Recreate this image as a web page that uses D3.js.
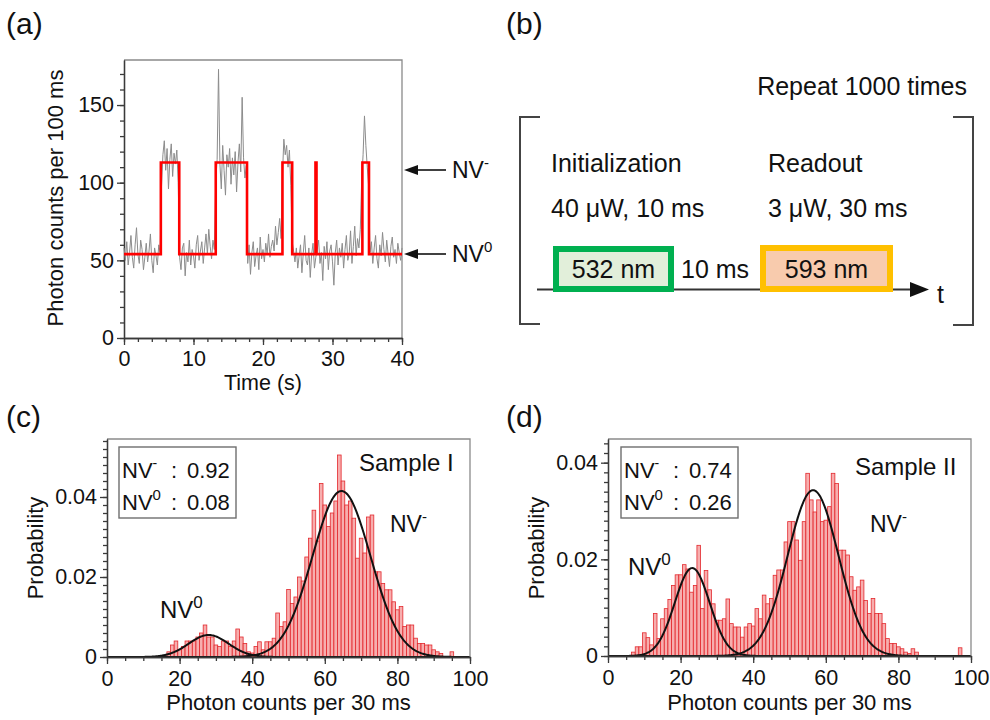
<!DOCTYPE html>
<html><head><meta charset="utf-8">
<script src="https://cdn.jsdelivr.net/npm/d3@7"></script>
<style>body{margin:0;background:#fff}svg{display:block}</style>
</head><body>
<svg id="chart" width="990" height="720"></svg>
<script>
// ---------- DATA ----------
// (a) photon count trace, one value every 0.2 s from 0 to 40 s
const traceStep = 0.2;
const traceValues = [
 58,50,62,47,55,66,52,45,60,71,54,48,63,57,44,52,61,49,56,67,50,42,58,53,47,60,55,
 98,118,127,108,122,96,115,125,104,119,112,121,100,
 52,44,58,61,40,55,49,63,47,57,53,45,60,66,50,56,62,48,58,67,54,70,59,51,63,57,
 101,115,173,112,96,124,108,92,118,110,122,99,116,105,120,94,113,125,107,155,116,103,111,
 48,60,41,55,62,46,53,58,44,65,51,57,49,61,54,67,52,59,63,56,72,60,68,77,64,
 105,128,118,124,110,121,98,
 62,56,49,58,45,53,60,42,55,66,50,47,58,39,54,61,45,52,57,63,48,55,37,59,51,62,44,56,60,49,
 34,55,63,47,58,52,61,45,57,66,50,54,69,48,59,72,53,64,58,70,
 102,118,143,124,110,98,
 55,62,48,58,66,51,45,60,53,68,57,49,63,54,46,59,65,52,57,48,61,55,50,58
];
// (a) two-level state fit (step)
const stateTimes  = [0, 5.3, 7.95, 13.2, 17.7, 22.8, 24.2, 27.55, 27.7, 34.3, 35.25, 40];
const stateLevels = [54, 113, 54, 113, 54, 113, 54, 113, 54, 113, 54, 54];
const aYTicks = [0, 50, 100, 150];
const aXTicks = [0, 10, 20, 30, 40];

// (c) Sample I histogram (bin centre, probability)
const binsC = [17,18,19,20,21,22,23,24,25,26,27,28,29,30,31,32,33,34,35,36,37,38,39,40,41,42,43,44,45,46,
 47,48,49,50,51,52,53,54,55,56,57,58,59,60,61,62,63,64,65,66,67,68,69,70,71,72,73,74,75,76,
 77,78,79,80,81,82,83,84,85,86,87,88,89,90,91,92,93,94,95];
const probC = [0.0013,0.003,0.004,0.0018,0.0026,0.004,0.004,0.004,0.005,0.006,0.008,0.005,0.005,0.003,0.0026,0.004,0.004,0.0026,0.004,0.007,
 0.005,0.0034,0.0013,0.001,0.0026,0.0038,0.0018,0.0038,0.0038,0.0047,
 0.011,0.0076,0.0088,0.0169,0.0134,0.015,0.02,0.019,0.025,0.0297,0.0367,0.029,0.0434,0.038,0.0326,0.036,0.039,0.0505,0.044,0.038,
 0.039,0.0347,0.0247,0.0297,0.026,0.035,0.0355,0.0213,0.0213,0.0184,
 0.0168,0.0168,0.0138,0.0118,0.0126,0.0076,0.008,0.008,0.0047,0.0034,0.0034,0.003,0.003,0.0018,0.0013,0.0009,0,0,0.0013];
// (c) Gaussian fit parameters [NV0, NV-]
const fitAmpC = [0.0055, 0.0415];
const fitMeanC = [28, 64.6];
const fitSigmaC = [5.5, 8.0];

// (d) Sample II histogram
const binsD = [7,8,9,10,11,12,13,14,15,16,17,18,19,20,21,22,23,24,25,26,27,28,29,30,31,32,33,34,35,36,
 37,38,39,40,41,42,43,44,45,46,47,48,49,50,51,52,53,54,55,56,57,58,59,60,61,62,63,64,65,66,
 67,68,69,70,71,72,73,74,75,76,77,78,79,80,81,82,83,84,85,97];
const probD = [0.0008,0.0019,0.0019,0.0048,0.0038,0.0023,0.0088,0.0036,0.0077,0.0098,0.0117,0.0146,0.0168,0.0168,0.0189,0.018,0.0132,0.0146,0.0229,0.0098,
 0.0177,0.0137,0.0108,0.0074,0.0074,0.0077,0.0118,0.0067,0.006,0.006,
 0.0039,0.006,0.0067,0.0062,0.0098,0.0077,0.0126,0.0108,0.0119,0.0167,0.0178,0.0178,0.0236,0.0278,0.0278,0.024,0.0198,0.0278,0.0378,0.0323,
 0.0298,0.0323,0.0278,0.0281,0.0309,0.0378,0.0357,0.0219,0.0219,0.0209,
 0.0164,0.0136,0.0143,0.0157,0.0115,0.0088,0.0119,0.0088,0.0088,0.0067,0.0036,0.0026,0.0026,0.0019,0.0015,0.0008,0.0005,0.0015,0.0008,0.0017];
const fitAmpD = [0.0182, 0.0343];
const fitMeanD = [23.2, 56.5];
const fitSigmaD = [4.8, 7.0];

const histXTicks = [0, 20, 40, 60, 80, 100];
const histYTicks = [0, 0.02, 0.04];
const ratioC = ["0.92", "0.08"];
const ratioD = ["0.74", "0.26"];

// ---------- DRAWING ----------
const FONT = '"Liberation Sans", Arial, Helvetica, sans-serif';
const svg = d3.select("#chart").attr("font-family", FONT);
svg.append("rect").attr("width", 990).attr("height", 720).attr("fill", "#fff");

function range(a, b, s) { const r = []; for (let v = a; v <= b + 1e-9; v += s) r.push(+v.toFixed(6)); return r; }

function drawAxes(g, x, y, cfg) {
  const [x0, x1] = x.range(), [y0, y1] = y.range();
  g.append("path").attr("d", `M${x0},${y1}H${x1}V${y0}`).attr("fill", "none")
    .attr("stroke", "#8a8a8a").attr("stroke-width", 1.3);
  g.append("g").attr("transform", `translate(${x0},0)`)
    .call(d3.axisLeft(y).tickValues(cfg.yMinor).tickSize(4).tickFormat("").tickSizeOuter(0));
  g.append("g").attr("transform", `translate(0,${y0})`)
    .call(d3.axisBottom(x).tickValues(cfg.xMinor).tickSize(4).tickFormat("").tickSizeOuter(0));
  g.append("g").attr("transform", `translate(${x0},0)`)
    .call(d3.axisLeft(y).tickValues(cfg.yMajor).tickSize(7).tickPadding(3).tickFormat(cfg.yFmt).tickSizeOuter(0));
  g.append("g").attr("transform", `translate(0,${y0})`)
    .call(d3.axisBottom(x).tickValues(cfg.xMajor).tickSize(7).tickPadding(cfg.xPad).tickFormat(d3.format("d")).tickSizeOuter(0));
  g.selectAll(".domain, .tick line").attr("stroke", "#3a3a3a").attr("stroke-width", 1.3);
  g.selectAll(".tick text").attr("font-size", 21.5).attr("fill", "#111").attr("font-family", FONT);
}

function txt(x, y, s, size, anchor) {
  return svg.append("text").attr("x", x).attr("y", y).attr("font-size", size)
    .attr("fill", "#111").attr("text-anchor", anchor || "start").text(s);
}
function nv(x, y, sup, size, supSize, dy) {
  const t = svg.append("text").attr("x", x).attr("y", y).attr("font-size", size).attr("fill", "#111");
  t.append("tspan").text("NV");
  t.append("tspan").attr("dy", dy).attr("font-size", supSize).text(sup);
  return t;
}

// ===== Panel (a) =====
txt(6, 34, "(a)", 30);
const xA = d3.scaleLinear().domain([0, 40]).range([124, 402]);
const yA = d3.scaleLinear().domain([0, 179]).range([338, 60]);
const gA = svg.append("g");
drawAxes(gA, xA, yA, {
  yMinor: range(0, 170, 10), xMinor: range(0, 40, 2),
  yMajor: aYTicks, xMajor: aXTicks, yFmt: d3.format("d"), xPad: 6
});
// gray trace
const traceLine = d3.line().x((d, i) => xA(i * traceStep)).y(d => yA(d));
gA.append("path").datum(traceValues).attr("d", traceLine)
  .attr("fill", "none").attr("stroke", "#8c8c8c").attr("stroke-width", 1);
// red step
const stepPts = stateTimes.map((t, i) => [t, stateLevels[i]]);
gA.append("path").datum(stepPts)
  .attr("d", d3.line().x(d => xA(d[0])).y(d => yA(d[1])).curve(d3.curveStepAfter))
  .attr("fill", "none").attr("stroke", "#ff0000").attr("stroke-width", 2.6);
// axis titles
svg.append("text").attr("transform", "translate(63,198) rotate(-90)").attr("text-anchor", "middle")
  .attr("font-size", 22).attr("fill", "#111").text("Photon counts per 100 ms");
txt(263, 390, "Time (s)", 21.5, "middle");
// arrows
function arrowLeft(xTip, xTail, y) {
  svg.append("line").attr("x1", xTip + 10).attr("x2", xTail).attr("y1", y).attr("y2", y)
    .attr("stroke", "#111").attr("stroke-width", 1.6);
  svg.append("path").attr("d", `M${xTip},${y}L${xTip + 14},${y - 5}L${xTip + 14},${y + 5}Z`).attr("fill", "#111");
}
arrowLeft(404, 446, 170);
arrowLeft(404, 446, 254);
nv(452, 178, "-", 23, 15, -10);
nv(452, 262, "0", 23, 15, -10);

// ===== Panel (b) =====
txt(506, 34, "(b)", 30);
txt(967, 95, "Repeat 1000 times", 25, "end");
svg.append("path").attr("d", "M540,117H520V324H540").attr("fill", "none").attr("stroke", "#444").attr("stroke-width", 2);
svg.append("path").attr("d", "M953,117H973V325H953").attr("fill", "none").attr("stroke", "#444").attr("stroke-width", 2);
txt(551, 172, "Initialization", 25);
txt(768, 172, "Readout", 25);
txt(551, 217, "40 μW, 10 ms", 25);
txt(768, 217, "3 μW, 30 ms", 25);
svg.append("line").attr("x1", 537).attr("x2", 912).attr("y1", 289.5).attr("y2", 289.5)
  .attr("stroke", "#333").attr("stroke-width", 1.8);
svg.append("path").attr("d", "M910,282L929,289.5L910,297Z").attr("fill", "#111");
txt(937, 303, "t", 25);
svg.append("rect").attr("x", 556).attr("y", 249).attr("width", 115).attr("height", 40)
  .attr("fill", "#e2efda").attr("stroke", "#00b050").attr("stroke-width", 6);
txt(613.5, 278, "532 nm", 25, "middle");
txt(681, 278, "10 ms", 25);
svg.append("rect").attr("x", 763).attr("y", 248).attr("width", 127).attr("height", 41)
  .attr("fill", "#f8cbad").attr("stroke", "#ffc000").attr("stroke-width", 6);
txt(826.5, 278, "593 nm", 25, "middle");

// ===== Histogram panels =====
function histPanel(cfg) {
  const x = d3.scaleLinear().domain([0, 100]).range([cfg.left, cfg.right]);
  const y = d3.scaleLinear().domain([0, cfg.yMax]).range([cfg.bottom, 439]);
  const g = svg.append("g");
  // bars
  g.selectAll("rect.bar").data(cfg.bins.map((b, i) => [b, cfg.probs[i]]).filter(d => d[1] > 0))
    .join("rect").attr("class", "bar")
    .attr("x", d => x(d[0] - 0.5)).attr("width", d => x(d[0] + 0.5) - x(d[0] - 0.5))
    .attr("y", d => y(d[1])).attr("height", d => y(0) - y(d[1]))
    .attr("fill", "#f6a5a5").attr("fill-opacity", 0.9)
    .attr("stroke", "#e3282d").attr("stroke-width", 0.8);
  // gaussian fits
  const xs = range(0, 100, 0.25);
  cfg.amp.forEach((a, k) => {
    const pts = xs.map(v => [v, a * Math.exp(-0.5 * Math.pow((v - cfg.mean[k]) / cfg.sigma[k], 2))]);
    g.append("path").datum(pts).attr("d", d3.line().x(d => x(d[0])).y(d => y(d[1])))
      .attr("fill", "none").attr("stroke", "#111").attr("stroke-width", 2);
  });
  drawAxes(g, x, y, {
    yMinor: range(0, cfg.yMax, 0.002), xMinor: range(0, 100, 5),
    yMajor: histYTicks, xMajor: histXTicks,
    yFmt: d => d === 0 ? "0" : d3.format(".2f")(d), xPad: 7
  });
  // titles
  svg.append("text").attr("transform", `translate(${cfg.left - 64},548) rotate(-90)`).attr("text-anchor", "middle")
    .attr("font-size", 22).attr("fill", "#111").text("Probability");
  txt((cfg.left + cfg.right) / 2, 710, "Photon counts per 30 ms", 22, "middle");
  // ratio box
  svg.append("rect").attr("x", cfg.boxX).attr("y", 447).attr("width", 117).attr("height", 71)
    .attr("fill", "#fff").attr("stroke", "#6e6e6e").attr("stroke-width", 1.4);
  nv(cfg.boxX + 3, 478, "-", 22, 14, -10);
  nv(cfg.boxX + 3, 510, "0", 22, 15, -10);
  txt(cfg.boxX + 52, 478, ":", 22);
  txt(cfg.boxX + 52, 510, ":", 22);
  txt(cfg.boxX + 68, 478, cfg.ratios[0], 22);
  txt(cfg.boxX + 68, 510, cfg.ratios[1], 22);
  txt(cfg.sampleX, cfg.sampleY, cfg.sample, 24);
  nv(cfg.nvmX, 532, "-", 23, 15, -10);
  nv(cfg.nv0X, cfg.nv0Y, "0", 24, 17, -10);
}

txt(6, 427, "(c)", 30);
histPanel({ left: 107, right: 470, bottom: 657, yMax: 0.0545, bins: binsC, probs: probC,
  amp: fitAmpC, mean: fitMeanC, sigma: fitSigmaC, boxX: 119, ratios: ratioC,
  sample: "Sample I", sampleX: 359, sampleY: 471, nvmX: 390, nv0X: 160, nv0Y: 618 });

txt(506, 427, "(d)", 30);
histPanel({ left: 608, right: 971, bottom: 656, yMax: 0.0449, bins: binsD, probs: probD,
  amp: fitAmpD, mean: fitMeanD, sigma: fitSigmaD, boxX: 621, ratios: ratioD,
  sample: "Sample II", sampleX: 855, sampleY: 475, nvmX: 870, nv0X: 628, nv0Y: 575 });
</script>
</body></html>
